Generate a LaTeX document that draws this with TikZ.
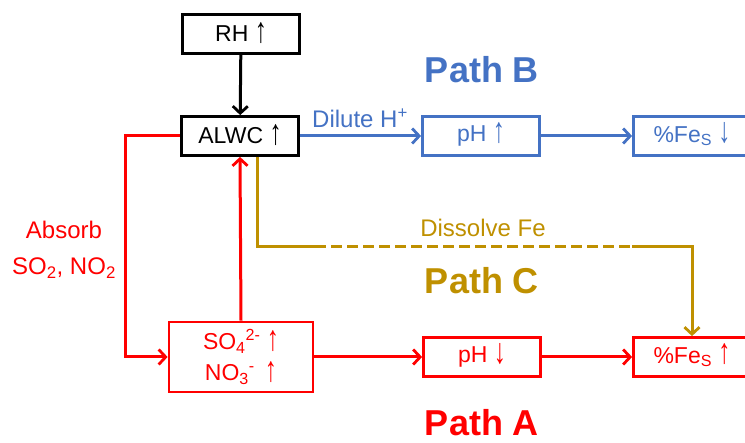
\documentclass[tikz,border=0pt]{standalone}
\usepackage{fontspec}
\usepackage{graphicx}
\setmainfont{Liberation Sans}
\usetikzlibrary{arrows.meta}
\definecolor{pred}{RGB}{255,0,0}
\definecolor{pblue}{RGB}{68,114,196}
\definecolor{pgold}{RGB}{191,144,0}
\newcommand{\upar}{\smash{\raisebox{-0.5pt}{\scalebox{1.05}[1.55]{↑}}}}
\newcommand{\dnar}{\smash{\raisebox{-0.5pt}{\scalebox{1.05}[1.55]{↓}}}}
\begin{document}
\begin{tikzpicture}[x=1pt,y=-1pt,
  box/.style={draw, line width=2.8pt, minimum width=117pt, minimum height=39pt, inner sep=0pt, font=\fontsize{23}{24}\selectfont, fill=white},
  conn/.style={line width=3pt, -{Straight Barb[length=7pt,width=15pt,line width=2.8pt]}},
  plain/.style={line width=3pt},
  lbl/.style={font=\fontsize{24}{27}\selectfont, inner sep=0pt},
  path/.style={font=\fontsize{36}{38}\selectfont\bfseries, inner sep=0pt}]
\useasboundingbox (0,0) rectangle (745,443);
% nodes
\node[box] (rh) at (241,34) {RH \upar};
\node[box] (alwc) at (240,136) {ALWC \upar};
\node[box, draw=pblue, text=pblue] (phup) at (481,136) {pH \upar};
\node[box, draw=pblue, text=pblue] (fedn) at (692,136) {\%Fe\textsubscript{S} \dnar};
\node[box, draw=pred, text=pred, minimum width=144pt, minimum height=70pt, align=center, font=\fontsize{23}{31}\selectfont] (so4) at (241,357) {SO\textsubscript{4}\textsuperscript{2-} \upar\\NO\textsubscript{3}\textsuperscript{-}\, \upar};
\node[box, draw=pred, text=pred] (phdn) at (482,357) {pH \dnar};
\node[box, draw=pred, text=pred] (feup) at (692,357) {\%Fe\textsubscript{S} \upar};
% labels
\node[path, text=pblue] (pb) at (482,70) {Path B};
\node[path, text=pgold] (pc) at (482,281) {Path C};
\node[path, text=pred] (pa) at (482,423) {Path A};
\node[lbl, text=pblue, anchor=base west] (dil) at (312,128) {Dilute H\textsuperscript{+}};
\node[lbl, text=pgold] (dis) at (483,228) {Dissolve Fe};
\node[lbl, text=pred, align=center, font=\fontsize{24}{36}\selectfont] (abs) at (64,250) {Absorb\\SO\textsubscript{2}, NO\textsubscript{2}};
% coordinates
\coordinate (rl) at (125,136);
\coordinate (g1) at (257,247);
\coordinate (g2) at (315,247);
\coordinate (g3) at (632,247);
\coordinate (g4) at (692,247);
% connectors
\draw[conn] (rh) -- (alwc);
\draw[conn, draw=pblue] (alwc) -- (phup);
\draw[conn, draw=pblue] (phup) -- (fedn);
\draw[conn, draw=pred] (alwc.west) -- (rl) |- (so4.west);
\draw[conn, draw=pred] (so4.north) -- (alwc.south);
\draw[conn, draw=pred] (so4) -- (phdn);
\draw[conn, draw=pred] (phdn) -- (feup);
\draw[plain, draw=pgold] (alwc.south -| g1) -- (g1) -- (g2);
\draw[plain, draw=pgold, dash pattern=on 11pt off 5pt] (g2) -- (g3);
\draw[conn, draw=pgold] (g3) -- (g4) -- (feup.north);
\end{tikzpicture}
\end{document}
